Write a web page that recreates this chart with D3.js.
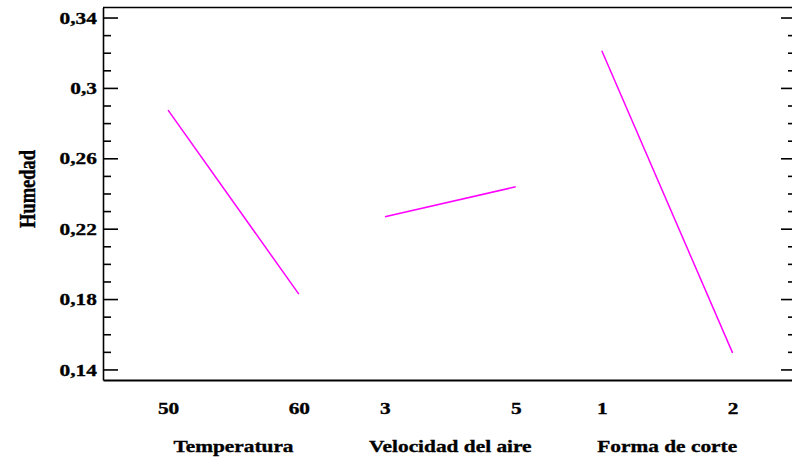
<!DOCTYPE html>
<html>
<head>
<meta charset="utf-8">
<script src="https://cdn.jsdelivr.net/npm/d3@7"></script>
<style>
  html, body { margin: 0; padding: 0; background: #fff; }
  svg { display: block; }
  text { font-family: "Liberation Serif", "Times New Roman", serif; font-weight: bold; fill: #000; stroke: #000; stroke-width: 0.35px; }
</style>
</head>
<body>
<svg id="chart" width="792" height="459"></svg>
<script>
// Main effects plot for Humedad
const factors = ["Temperatura", "Velocidad del aire", "Forma de corte"];
const lowLevels = ["50", "3", "1"];
const highLevels = ["60", "5", "2"];
const lowMeans = [0.2874, 0.2268, 0.3211];
const highMeans = [0.1828, 0.2438, 0.1494];
const yTicks = [0.14, 0.18, 0.22, 0.26, 0.30, 0.34];
const yMinorStep = 0.01;
const yTitle = "Humedad";

const plotLeft = 103, plotRight = 797, plotTop = 7.5, plotBottom = 380;
const fontSize = 17.5;
const stretch = 1.22;   // horizontal text stretch of the output
const span = 0.603;     // share of a factor slot between its two levels

const svg = d3.select("#chart");

// each factor occupies one unit slot; low level at i, high level at i + span
const x = d3.scaleLinear().domain([-0.3, 2.9]).range([plotLeft, plotRight]);
const y = d3.scaleLinear().domain([0.134, 0.3457]).range([plotBottom, plotTop]);

const locale = d3.formatLocale({ decimal: ",", thousands: ".", grouping: [3], currency: ["", ""] });
const fmt = locale.format("~g");

const minorTicks = d3.range(0.14, 0.345, yMinorStep)
  .map(v => +v.toFixed(2))
  .filter(v => !yTicks.some(t => Math.abs(t - v) < 1e-6));

// left axis: inward ticks with labels
const gLeft = svg.append("g").attr("transform", `translate(${plotLeft},0)`)
  .call(d3.axisLeft(y).tickValues(yTicks).tickSize(-15).tickSizeOuter(0).tickPadding(5).tickFormat(fmt));
gLeft.selectAll("text").attr("font-size", fontSize).attr("transform", `scale(${stretch},1)`);
gLeft.append("g")
  .call(d3.axisLeft(y).tickValues(minorTicks).tickSize(-8).tickFormat(""))
  .call(g => g.select(".domain").remove());

// right axis: inward ticks only
const gRight = svg.append("g").attr("transform", `translate(${plotRight - 1},0)`)
  .call(d3.axisRight(y).tickValues(yTicks).tickSize(-15).tickSizeOuter(0).tickFormat(""));
gRight.append("g")
  .call(d3.axisRight(y).tickValues(minorTicks).tickSize(-8).tickFormat(""))
  .call(g => g.select(".domain").remove());

svg.selectAll(".tick line, .domain").attr("stroke", "#000").attr("stroke-width", 1.6);

// bottom axis with level labels, no tick marks
const levelPos = [], levelLab = [];
factors.forEach((f, i) => {
  levelPos.push(i, i + span);
  levelLab.push(lowLevels[i], highLevels[i]);
});
const gBottom = svg.append("g").attr("transform", `translate(0,${plotBottom})`)
  .call(d3.axisBottom(x).tickValues(levelPos).tickSize(0).tickSizeOuter(0).tickPadding(22)
    .tickFormat((d, i) => levelLab[i]));
gBottom.selectAll("text").attr("font-size", fontSize).attr("transform", `scale(${stretch},1)`);
gBottom.select(".domain").attr("stroke", "#000").attr("stroke-width", 1.8);

// top frame line
svg.append("line")
  .attr("x1", plotLeft).attr("x2", plotRight).attr("y1", plotTop).attr("y2", plotTop)
  .attr("stroke", "#000").attr("stroke-width", 1.6);

// factor titles
svg.selectAll("text.ftitle").data(factors).join("text")
  .attr("class", "ftitle")
  .attr("font-size", fontSize)
  .attr("text-anchor", "middle")
  .attr("transform", (d, i) => `translate(${x(i + span / 2)},452) scale(${stretch},1)`)
  .text(d => d);

// y title
svg.append("text")
  .attr("font-size", 18.5)
  .attr("text-anchor", "middle")
  .attr("transform", `translate(35,189) scale(${stretch},1) rotate(-90)`)
  .text(yTitle);

// effect lines
const line = d3.line().x(d => x(d[0])).y(d => y(d[1]));
svg.selectAll("path.effect").data(factors).join("path")
  .attr("class", "effect")
  .attr("fill", "none")
  .attr("stroke", "#ff00ff")
  .attr("stroke-width", 1.5)
  .attr("d", (d, i) => line([[i, lowMeans[i]], [i + span, highMeans[i]]]));
</script>
</body>
</html>
